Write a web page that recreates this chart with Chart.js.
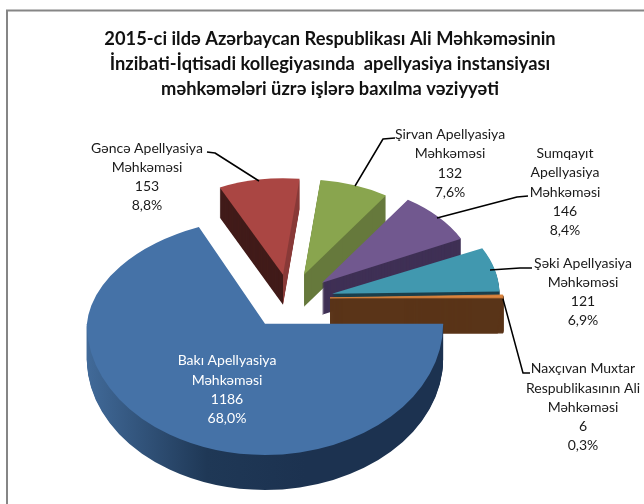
<!DOCTYPE html>
<html><head><meta charset="utf-8">
<style>html,body{margin:0;padding:0;background:#fff}canvas{display:block}</style>
<script src="https://cdn.jsdelivr.net/npm/chart.js@4"></script>
</head><body>
<canvas id="c" width="644" height="504"></canvas>
<script>
const categories = ['Bakı Apellyasiya Məhkəməsi','Gəncə Apellyasiya Məhkəməsi','Şirvan Apellyasiya Məhkəməsi','Sumqayıt Apellyasiya Məhkəməsi','Şəki Apellyasiya Məhkəməsi','Naxçıvan Muxtar Respublikasının Ali Məhkəməsi'];
const values = [1186,153,132,146,121,6];
const titleLines = ['2015-ci ildə Azərbaycan Respublikası Ali Məhkəməsinin','İnzibati-İqtisadi kollegiyasında  apellyasiya instansiyası','məhkəmələri üzrə işlərə baxılma vəziyyəti'];
const labelWraps = [['Bakı Apellyasiya','Məhkəməsi'],['Gəncə Apellyasiya','Məhkəməsi'],['Şirvan Apellyasiya','Məhkəməsi'],['Sumqayıt','Apellyasiya','Məhkəməsi'],['Şəki Apellyasiya','Məhkəməsi'],['Naxçıvan Muxtar','Respublikasının Ali','Məhkəməsi']];
const faceColors = ['#4572A7','#AA4643','#89A54E','#71588F','#4198AF','#DB843D'];
const wallColors = ['#1c3250','#421c1a','#66793c','#3f3055','#1b3f4b','#5a3418'];

// 3D look: per-slice explosion and perspective squash, relative to the pie centre
const pieShiftX = -65;
const look = [
  {dx:0,  dy:0,   sx:1,    sy:.736, depth:35},
  {dx:18, dy:-49, sx:.834, sy:.542, depth:30},
  {dx:39, dy:-49, sx:.83,  sy:.535, depth:32},
  {dx:57, dy:-41, sx:.87,  sy:.56,  depth:32},
  {dx:67, dy:-30, sx:.94,  sy:.58,  depth:32},
  {dx:65, dy:-26, sx:.97,  sy:.75,  depth:35, lean:.15}
];
const backOfBaku = {sy:.6, skew:-.06};
const drawOrder = [1,2,3,4,5,0];
const labelSpots = [
  {x:227,ys:[360,380,399,418],color:'#fff'},
  {x:147,ys:[148,167,186,205]},
  {x:450,ys:[134,153,173,192]},
  {x:565,ys:[153,172,192,211,230]},
  {x:583,ys:[263,282,301,320]},
  {x:583,ys:[368,388,407,426,445]}
];
const leaders = [
  null,
  [[207,152],[215,153],[259,181]],
  [[395,138],[383,139],[355,186]],
  [[528,196],[517,197],[437,218]],
  [[532,268],[520,268],[490,270]],
  [[503,299],[523,373],[530,373]]
];

function paint(ctx, arc, color, l, ox, oy, skew, edge){
  const base = arc.options;
  const o = Object.create(base);
  o.backgroundColor = color;
  if(edge){o.borderColor = color;o.borderWidth = edge;}
  arc.options = o;
  ctx.save();
  ctx.translate(arc.x + pieShiftX + l.dx + ox, arc.y + l.dy + oy);
  ctx.transform(l.sx, 0, skew || 0, l.sy, 0, 0);
  ctx.translate(-arc.x, -arc.y);
  arc.draw(ctx);
  ctx.restore();
  arc.options = base;
}
function clipRect(ctx,x,y,w,h){ctx.beginPath();ctx.rect(x,y,w,h);ctx.clip();}

const pie3d = {
  id:'pie3d',
  beforeDraw(chart){
    const ctx = chart.ctx;
    ctx.save();
    ctx.fillStyle='#fff';ctx.fillRect(0,0,644,504);
    ctx.strokeStyle='#868686';ctx.lineWidth=2;
    ctx.beginPath();ctx.moveTo(7,504);ctx.lineTo(7,10.5);ctx.lineTo(644,10.5);ctx.stroke();
    ctx.restore();
  },
  beforeDatasetsDraw(chart){
    const ctx = chart.ctx, arcs = chart.getDatasetMeta(0).data;
    drawOrder.forEach(i=>{
      const arc = arcs[i], l = look[i];
      if(i===0){
        const cy = Math.round(arc.y);
        const g = ctx.createLinearGradient(arc.x-178,0,arc.x+40,0);
        g.addColorStop(0,'#416a99');g.addColorStop(.55,'#1f3856');g.addColorStop(1,wallColors[0]);
        for(let k=l.depth;k>=1;k--){
          ctx.save();clipRect(ctx,0,cy+k,644,200);
          paint(ctx,arc,g,l,0,k);
          ctx.restore();
        }
        ctx.save();clipRect(ctx,0,cy,644,200);
        paint(ctx,arc,faceColors[0],l,0,0);
        ctx.restore();
        ctx.save();clipRect(ctx,0,0,644,cy+1);
        paint(ctx,arc,faceColors[0],{dx:l.dx,dy:l.dy,sx:l.sx,sy:backOfBaku.sy},0,0,backOfBaku.skew);
        ctx.restore();
        return;
      }
      const splitX = arc.x + pieShiftX + l.dx;
      for(let k=l.depth;k>=1;k--){
        if(i===1){
          ctx.save();clipRect(ctx,0,0,splitX,504);paint(ctx,arc,wallColors[1],l,0,k);ctx.restore();
          ctx.save();clipRect(ctx,splitX,0,644,504);paint(ctx,arc,'#8a3c3a',l,0,k);ctx.restore();
        } else if(i===5){
          ctx.save();clipRect(ctx,splitX,0,644,504);
          paint(ctx,arc,wallColors[5],l,-k*l.lean,k,0,1.5);
          paint(ctx,arc,wallColors[5],l,0,k,0,1.5);
          ctx.restore();
        } else paint(ctx,arc,wallColors[i],l,0,k);
      }
      paint(ctx,arc,faceColors[i],l,0,0,0,i===5?1:0);
    });
    return false;
  },
  afterDraw(chart){
    const ctx = chart.ctx, total = values.reduce((a,b)=>a+b,0);
    ctx.save();
    ctx.strokeStyle='#000';ctx.lineWidth=1.5;ctx.lineJoin='round';
    leaders.forEach(p=>{
      if(!p)return;
      ctx.beginPath();ctx.moveTo(p[0][0],p[0][1]);
      for(let j=1;j<p.length;j++)ctx.lineTo(p[j][0],p[j][1]);
      ctx.stroke();
    });
    ctx.textAlign='center';ctx.textBaseline='middle';
    ctx.font='14px Lato';
    values.forEach((v,i)=>{
      const pct=(v/total*100).toFixed(1).replace('.',',')+'%';
      const lines=[...labelWraps[i],String(v),pct];
      const s=labelSpots[i];
      ctx.fillStyle=s.color||'#1a1a1a';
      lines.forEach((t,j)=>ctx.fillText(t,s.x,s.ys[j]));
    });
    ctx.restore();
  }
};

new Chart(document.getElementById('c'),{
  type:'pie',
  data:{labels:categories,datasets:[{data:values,backgroundColor:faceColors,borderWidth:0}]},
  plugins:[pie3d],
  options:{
    responsive:false,animation:false,events:[],rotation:90,
    layout:{padding:{left:16,right:0,top:27,bottom:2}},
    plugins:{
      legend:{display:false},tooltip:{enabled:false},
      title:{display:true,text:titleLines,color:'#111',
        font:{family:'Lato',size:18.3,weight:'bold',lineHeight:1.36},
        padding:{top:0,bottom:44}}
    }
  }
});
</script>
</body></html>
